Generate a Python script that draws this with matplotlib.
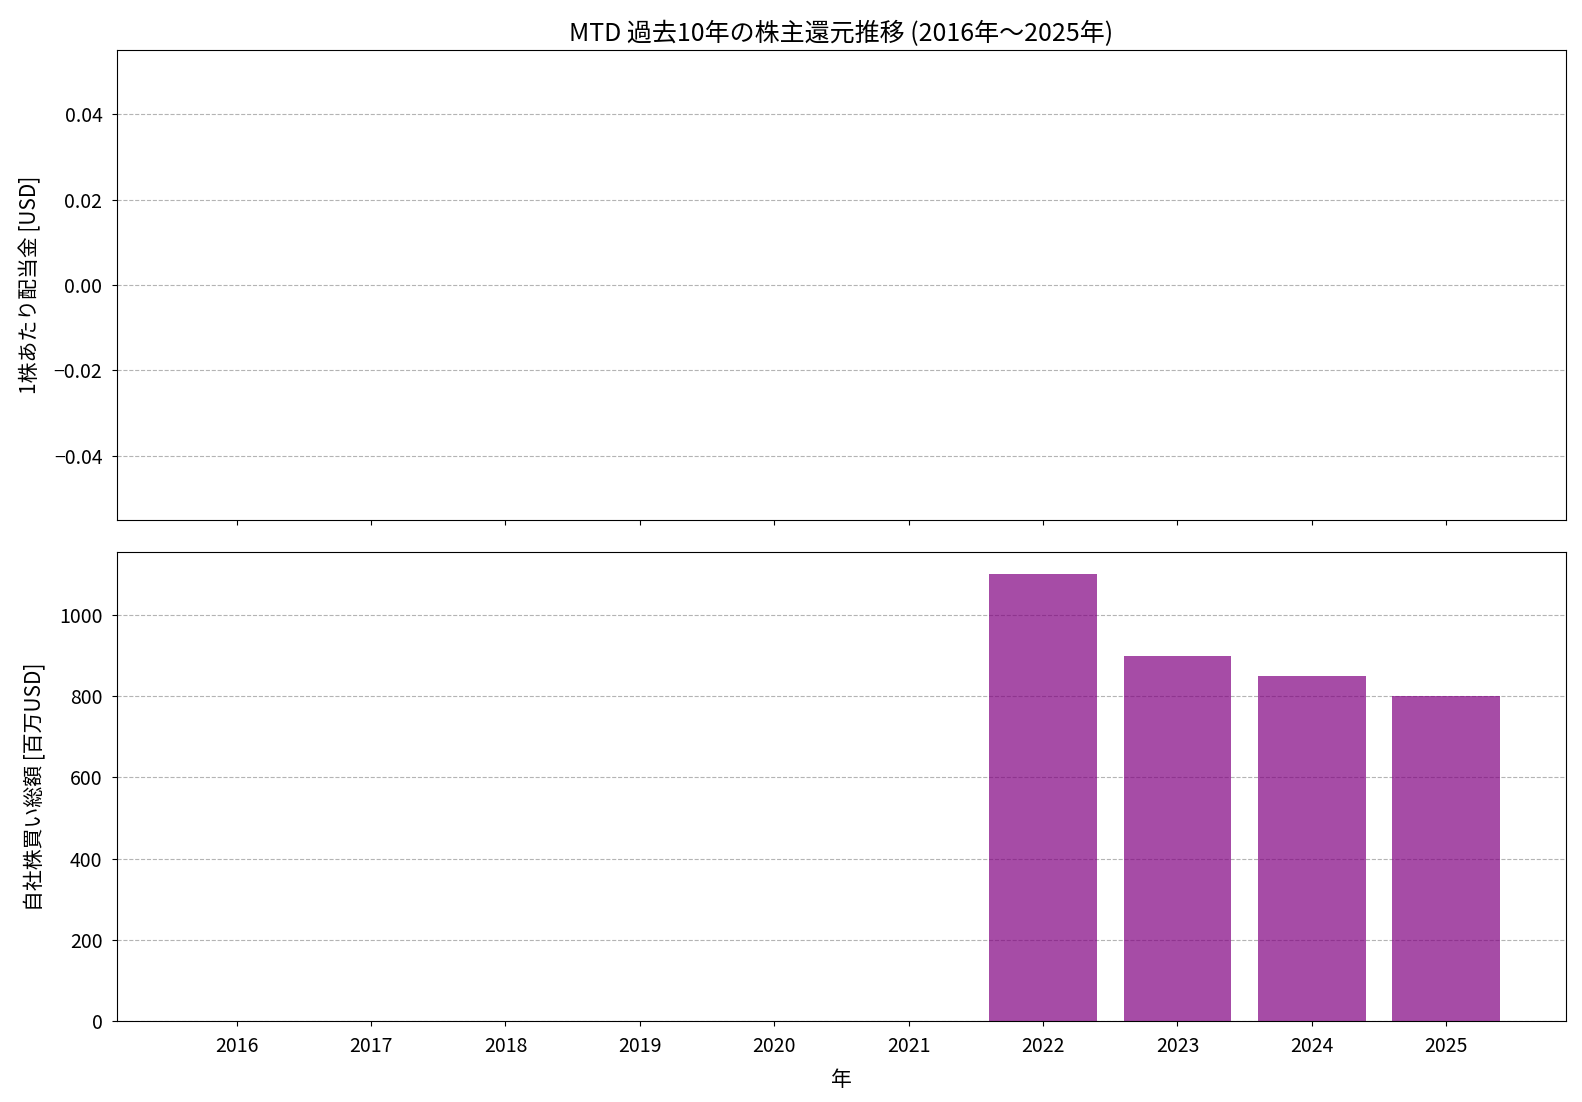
import matplotlib
matplotlib.use("Agg")
import matplotlib.pyplot as plt
import numpy as np

plt.rcParams['font.family'] = ['Noto Sans CJK JP', 'DejaVu Sans']

years = [2016, 2017, 2018, 2019, 2020, 2021, 2022, 2023, 2024, 2025]
dividends = [0, 0, 0, 0, 0, 0, 0, 0, 0, 0]
buybacks = [0, 0, 0, 0, 0, 0, 1100, 900, 850, 800]

fig, (ax1, ax2) = plt.subplots(2, 1, figsize=(15.82, 11.02), dpi=100, sharex=True)
fig.subplots_adjust(left=0.074, right=0.9898, top=0.9542, bottom=0.0733, hspace=0.069)

ax1.bar(years, dividends, color='tab:blue', alpha=0.7)
ax1.set_ylabel('1株あたり配当金 [USD]', fontsize=15, labelpad=9)
ax1.set_title('MTD 過去10年の株主還元推移 (2016年〜2025年)', fontsize=18, pad=7)
ax1.grid(axis='y', linestyle='--', alpha=0.95)
ax1.set_ylim(-0.055, 0.055)
ax1.set_yticks([-0.04, -0.02, 0.0, 0.02, 0.04])

ax2.bar(years, buybacks, color='purple', alpha=0.7, linewidth=0)
ax2.set_ylabel('自社株買い総額 [百万USD]', fontsize=15, labelpad=9)
ax2.set_xlabel('年', fontsize=15, labelpad=9)
ax2.grid(axis='y', linestyle='--', alpha=0.95)
ax2.set_xticks(years)
ax2.set_xticklabels([str(y) for y in years])

for ax in (ax1, ax2):
    ax.tick_params(labelsize=14, pad=7)
    ax.set_axisbelow(True)

fig.savefig('out.png', dpi=100)
